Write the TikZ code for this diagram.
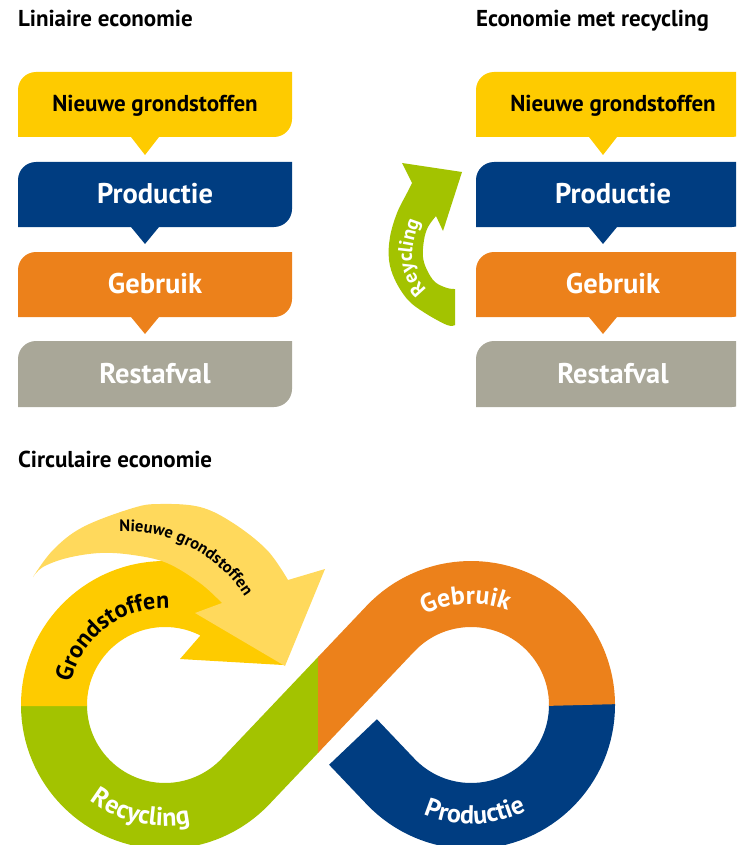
\documentclass[tikz,border=0pt]{standalone}
\usepackage{fontspec}
\setmainfont{PT Sans}
\usetikzlibrary{positioning,decorations.text}

\definecolor{geel}{RGB}{254,203,0}
\definecolor{lichtgeel}{RGB}{255,217,92}
\definecolor{blauw}{RGB}{0,61,129}
\definecolor{oranje}{RGB}{236,129,27}
\definecolor{grijs}{RGB}{169,167,152}
\definecolor{groen}{RGB}{163,195,0}

\begin{document}
\begin{tikzpicture}
[x=1pt,y=1pt,
 every node/.style={inner sep=0pt,outer sep=0pt,font=\bfseries},
 kop/.style={anchor=base west,font=\bfseries\fontsize{23}{23}\selectfont},
 grond/.style={font=\bfseries\fontsize{23}{23}\selectfont,text height=16pt,text depth=0pt},
 fase/.style={white,font=\bfseries\fontsize{28.5}{28.5}\selectfont,text height=20pt,text depth=0pt},
 band/.style={line width=66pt},
 boog/.style={decorate,decoration={text along path,text align=center,text color=#1}},
 boog/.default=white]
\useasboundingbox (0,0) rectangle (736,-845);
\clip (0,0) rectangle (736,-845);

% lineaire economie
\fill[geel]   (18,-90)  arc[start angle=180,end angle=90,radius=18] -- (292,-72)  -- (292,-119) arc[start angle=0,end angle=-90,radius=18] -- (159,-137) -- (145,-155) -- (131,-137) -- (18,-137) -- cycle;
\fill[blauw]  (18,-180) arc[start angle=180,end angle=90,radius=18] -- (292,-162) -- (292,-209) arc[start angle=0,end angle=-90,radius=18] -- (159,-227) -- (145,-244) -- (131,-227) -- (18,-227) -- cycle;
\fill[oranje] (18,-270) arc[start angle=180,end angle=90,radius=18] -- (292,-252) -- (292,-299) arc[start angle=0,end angle=-90,radius=18] -- (159,-317) -- (145,-334) -- (131,-317) -- (18,-317) -- cycle;
\fill[grijs]  (18,-359) arc[start angle=180,end angle=90,radius=18] -- (292,-341) -- (292,-389) arc[start angle=0,end angle=-90,radius=18] -- (18,-407) -- cycle;

% economie met recycling
\fill[geel]   (476,-90)  arc[start angle=180,end angle=90,radius=18] -- (750,-72)  -- (750,-119) arc[start angle=0,end angle=-90,radius=18] -- (617,-137) -- (603,-155) -- (589,-137) -- (476,-137) -- cycle;
\fill[blauw]  (476,-180) arc[start angle=180,end angle=90,radius=18] -- (750,-162) -- (750,-209) arc[start angle=0,end angle=-90,radius=18] -- (617,-227) -- (603,-244) -- (589,-227) -- (476,-227) -- cycle;
\fill[oranje] (476,-270) arc[start angle=180,end angle=90,radius=18] -- (750,-252) -- (750,-299) arc[start angle=0,end angle=-90,radius=18] -- (617,-317) -- (603,-334) -- (589,-317) -- (476,-317) -- cycle;
\fill[grijs]  (476,-359) arc[start angle=180,end angle=90,radius=18] -- (750,-341) -- (750,-389) arc[start angle=0,end angle=-90,radius=18] -- (476,-407) -- cycle;

\fill[groen] plot[smooth,tension=0.6] coordinates {(455,-325) (447,-325) (425,-313) (408,-300) (395,-280) (389,-260) (390,-237) (397,-213) (407,-193) (412,-183)}
  -- (402,-163) -- (462,-172) -- (443,-231) -- (436,-216)
  -- plot[smooth,tension=0.6] coordinates {(436,-216) (428,-227) (424,-240) (423,-257) (427,-270) (435,-282) (447,-288) (455,-289)} -- cycle;
\path[boog,decoration={text={|\bfseries\fontsize{20}{20}\selectfont|Reycling}}] plot[smooth,tension=0.6] coordinates {(452,-300) (431,-292) (417,-277) (412,-258) (415,-236) (423,-214) (433,-197)};

\node[kop] (kopLin) at (18,-27) {Liniaire economie};
\node[kop] (kopRec) at (476,-27) {Economie met recycling};
\node[kop] (kopCirc) at (18,-467) {Circulaire economie};

\node[grond] (nieuweL) at (155,-103.5) {Nieuwe grondstoffen};
\node[fase] (prodL) [on grid,below=90pt of nieuweL] {Productie};
\node[fase] (gebrL) [on grid,below=90pt of prodL] {Gebruik};
\node[fase] (restL) [on grid,below=90pt of gebrL] {Restafval};

\node[grond] (nieuweR) at (613,-103.5) {Nieuwe grondstoffen};
\node[fase] (prodR) [on grid,below=90pt of nieuweR] {Productie};
\node[fase] (gebrR) [on grid,below=90pt of prodR] {Gebruik};
\node[fase] (restR) [on grid,below=90pt of gebrR] {Restafval};

% circulaire economie
\draw[band,blauw] (582,-704) -- (582,-705) arc[start angle=0,end angle=-136.5,radius=111] -- (353,-742);
\begin{scope}
\clip (0,-400) rectangle (319,-845);
\draw[band,groen] (54,-705) arc[start angle=180,end angle=316.5,radius=111] -- (390.5,-628.6) arc[start angle=136.5,end angle=0,radius=111];
\end{scope}
\begin{scope}
\clip (318,-400) rectangle (736,-845);
\draw[band,oranje] (54,-705) arc[start angle=180,end angle=316.5,radius=111] -- (390.5,-628.6) arc[start angle=136.5,end angle=0,radius=111];
\end{scope}

\fill[geel] (21,-706) -- (21,-705) arc[start angle=180,end angle=63,radius=144] -- (262,-572) -- (283,-665) -- (180,-659) -- (200.4,-635.5) arc[start angle=63,end angle=180,radius=78] -- (87,-706) -- cycle;
\fill[lichtgeel] plot[smooth,tension=0.6] coordinates {(33,-577) (53,-550) (83,-527) (133,-508) (160,-504) (200,-507) (233,-523) (267,-550) (288,-580)}
  -- (325,-569) -- (285,-666) -- (195,-613)
  -- plot[smooth,tension=0.6] coordinates {(222,-603) (200,-583) (167,-563) (133,-555) (100,-553) (67,-558) (43,-567) (33,-577)} -- cycle;

\path[boog=black,decoration={text={|\bfseries\fontsize{24}{24}\selectfont|Grondstoffen}}] ([shift={(165,-705)}]188:97) arc[start angle=188,end angle=66,radius=97];
\path[boog=black,decoration={text={|\bfseries\fontsize{16.5}{16.5}\selectfont|Nieuwe grondstoffen}}] ([shift={(125,-674)}]120:142.5) arc[start angle=120,end angle=5,radius=142.5];
\path[boog,decoration={text={|\bfseries\fontsize{26}{26}\selectfont|Recycling}}] ([shift={(165,-705)}]195:121) arc[start angle=195,end angle=319,radius=121];
\path[boog,decoration={text={|\bfseries\fontsize{26}{26}\selectfont|Gebruik}}] ([shift={(471,-705)}]137:101) arc[start angle=137,end angle=49,radius=101];
\path[boog,decoration={text={|\bfseries\fontsize{26}{26}\selectfont|Productie}}] ([shift={(471,-705)}]227:119) arc[start angle=227,end angle=317,radius=119];
\end{tikzpicture}
\end{document}
